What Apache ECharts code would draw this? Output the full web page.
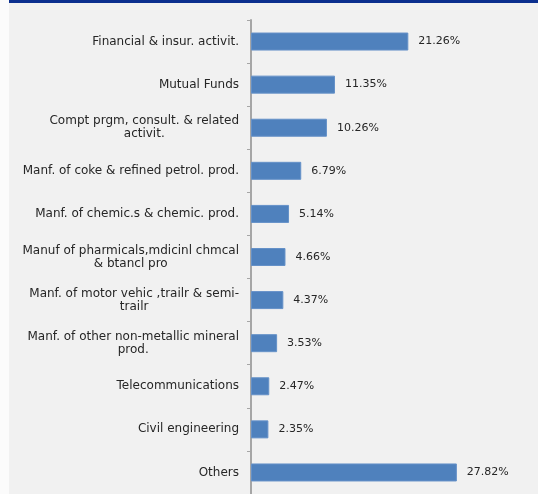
<!DOCTYPE html>
<html>
<head>
<meta charset="utf-8">
<script src="https://cdn.jsdelivr.net/npm/echarts@6/dist/echarts.min.js"></script>
<style>
html,body{margin:0;padding:0;background:#f1f1f1;}
#chart{width:538px;height:494px;}
</style>
</head>
<body>
<div id="chart"></div>
<script>
var categories = [
  "Financial & insur. activit.",
  "Mutual Funds",
  "Compt prgm, consult. & related\nactivit.",
  "Manf. of coke & refined petrol. prod.",
  "Manf. of chemic.s & chemic. prod.",
  "Manuf of pharmicals,mdicinl chmcal\n& btancl pro",
  "Manf. of motor vehic ,trailr & semi-\ntrailr",
  "Manf. of other non-metallic mineral\nprod.",
  "Telecommunications",
  "Civil engineering",
  "Others"
];
var values = [21.26, 11.35, 10.26, 6.79, 5.14, 4.66, 4.37, 3.53, 2.47, 2.35, 27.82];

var chart = echarts.init(document.getElementById('chart'), null, {renderer: 'canvas'});
var FONT = 'DejaVu Sans';
chart.setOption({
  backgroundColor: '#f1f1f1',
  animation: false,
  graphic: [
    {type: 'rect', left: 0, top: 0, shape: {width: 9, height: 494}, style: {fill: '#fbfbfb'}, silent: true},
    {type: 'rect', left: 9, top: 0, shape: {width: 529, height: 3}, style: {fill: '#0b2f8e'}, silent: true}
  ],
  grid: {left: 251, top: 20, right: 65, bottom: -3, containLabel: false},
  xAxis: {
    type: 'value', min: 0, max: 30, show: false
  },
  yAxis: {
    type: 'category',
    inverse: true,
    data: categories,
    axisLine: {show: true, lineStyle: {color: '#a6a6a6', width: 2}},
    axisTick: {show: true, length: 4, lineStyle: {color: '#a6a6a6', width: 1}},
    axisLabel: {
      margin: 12,
      fontFamily: FONT,
      fontSize: 12,
      color: '#262626',
      lineHeight: 13,
      formatter: function (v) {
        return v.split('\n').map(function (s) { return '{c|' + s + '}'; }).join('\n');
      },
      rich: {
        c: {align: 'center', fontFamily: FONT, fontSize: 12, color: '#262626', lineHeight: 13}
      }
    },
    splitLine: {show: false}
  },
  series: [{
    type: 'bar',
    data: values,
    barWidth: 18,
    itemStyle: {color: '#4f81bd', borderColor: '#6591c8', borderWidth: 1},
    label: {
      show: true,
      position: 'right',
      distance: 10,
      fontFamily: FONT,
      fontSize: 11,
      color: '#262626',
      formatter: function (p) { return p.value.toFixed(2) + '%'; }
    }
  }]
});
</script>
</body>
</html>
